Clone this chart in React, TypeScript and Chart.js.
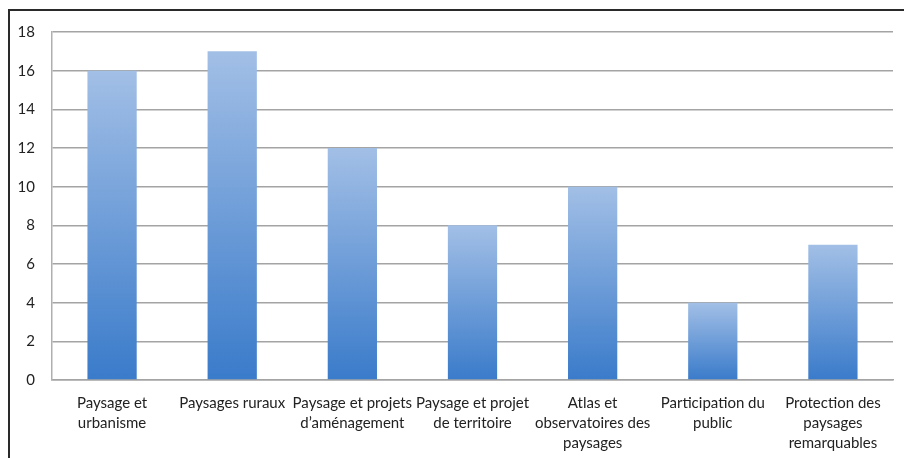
import React, { useEffect, useRef } from "react";
import { Chart, registerables } from "chart.js";

Chart.register(...registerables);

const categories: (string | string[])[] = [
  ["Paysage et", "urbanisme"],
  "Paysages ruraux",
  ["Paysage et projets", "d’aménagement"],
  ["Paysage et projet", "de territoire"],
  ["Atlas et", "observatoires des", "paysages"],
  ["Participation du", "public"],
  ["Protection des", "paysages", "remarquables"],
];
const values: number[] = [16, 17, 12, 8, 10, 4, 7];
const yMin = 0;
const yMax = 18;
const yStep = 2;

const framePlugin = {
  id: "frame",
  afterDraw(chart: any) {
    const c = chart.ctx;
    c.save();
    c.strokeStyle = "#2a2a2a";
    c.lineWidth = 2;
    c.beginPath();
    c.moveTo(9, 458);
    c.lineTo(9, 10);
    c.lineTo(904, 10);
    c.stroke();
    c.restore();
  },
};

export default function App() {
  const ref = useRef<HTMLCanvasElement>(null);
  useEffect(() => {
    document.body.style.margin = "0";
    document.body.style.background = "#ffffff";
    const canvas = ref.current!;
    const chart = new Chart(canvas, {
      type: "bar",
      data: {
        labels: categories,
        datasets: [
          {
            data: values,
            backgroundColor: (ctx: any) => {
              const ch = ctx.chart;
              const ys = ch.scales?.y;
              if (!ch.chartArea || !ys || ctx.raw == null) return "#6f9bd6";
              const top = ys.getPixelForValue(ctx.raw);
              const bottom = ys.getPixelForValue(0);
              if (!isFinite(top) || !isFinite(bottom) || top === bottom) return "#6f9bd6";
              const g = ch.ctx.createLinearGradient(0, top, 0, bottom);
              g.addColorStop(0, "#a2bfe6");
              g.addColorStop(1, "#3a7bca");
              return g;
            },
            borderWidth: 0,
            categoryPercentage: 1,
            barPercentage: 0.41,
          },
        ],
      },
      options: {
        responsive: false,
        animation: false,
        devicePixelRatio: 1,
        layout: { padding: { top: 32, right: 11, left: 0, bottom: 0 } },
        plugins: {
          legend: { display: false },
          tooltip: { enabled: false },
          title: { display: false },
        },
        scales: {
          x: {
            grid: { display: false, drawTicks: false },
            border: { display: true, color: "#a4a4a4", width: 1.5 },
            ticks: {
              color: "#222222",
              font: { family: "Lato", size: 15, lineHeight: 1.33 },
              maxRotation: 0,
              minRotation: 0,
              autoSkip: false,
              padding: 13,
            },
            afterFit: (s: any) => {
              s.height = 78;
            },
          },
          y: {
            min: yMin,
            max: yMax,
            grid: { color: "#a4a4a4", lineWidth: 1.5, drawTicks: false },
            border: { display: true, color: "#b0b0b0", width: 1.5 },
            ticks: {
              stepSize: yStep,
              color: "#222222",
              font: { family: "Lato", size: 15 },
              padding: 17,
            },
            afterFit: (s: any) => {
              s.width = 52;
            },
          },
        },
      },
      plugins: [framePlugin],
    } as any);
    return () => chart.destroy();
  }, []);
  return (
    <div style={{ position: "absolute", left: 0, top: 0, width: 904, height: 458 }}>
      <canvas ref={ref} width={904} height={458} style={{ width: 904, height: 458 }} />
    </div>
  );
}
